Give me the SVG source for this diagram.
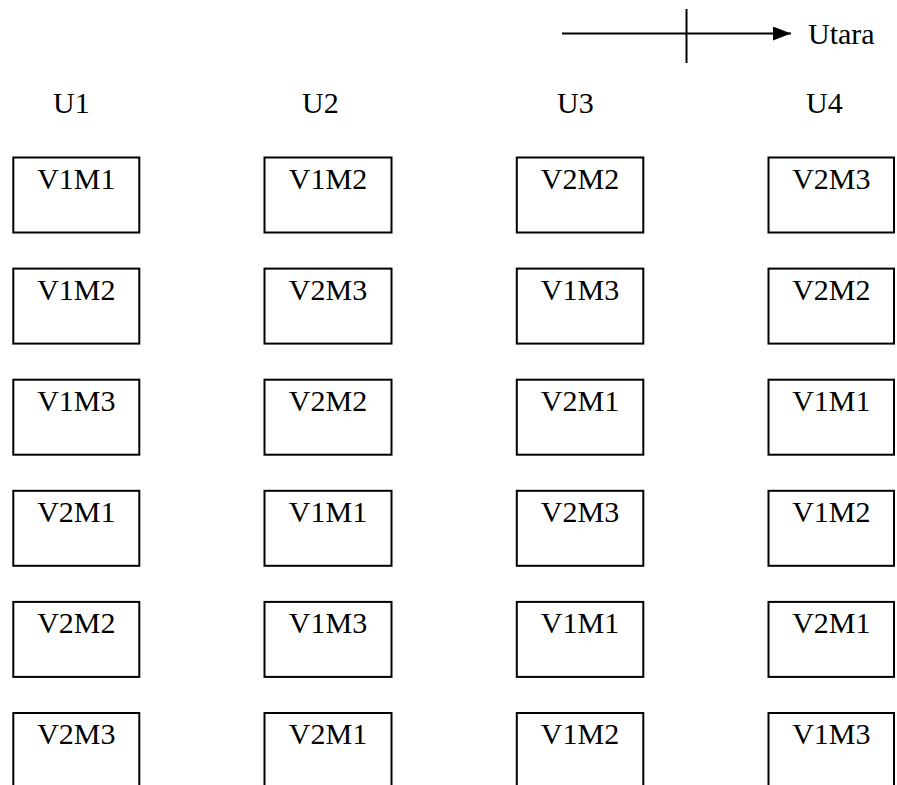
<svg xmlns="http://www.w3.org/2000/svg" width="897" height="785" viewBox="0 0 897 785">
<style>
.box{fill:#fff;stroke:#000;stroke-width:2}
.t{font-family:"Liberation Serif","Times New Roman",serif;font-size:30px;fill:#000}
.c{text-anchor:middle}
.ln{stroke:#000;stroke-width:2;fill:none}
</style>
<defs>
<marker id="ah" viewBox="0 0 10 10" refX="10" refY="5" markerWidth="18" markerHeight="14" markerUnits="userSpaceOnUse" orient="auto" preserveAspectRatio="none"><path d="M0,0 L10,5 L0,10 Z" fill="#000"/></marker>
</defs>
<rect width="897" height="785" fill="#fff"/>
<g id="connectors">
<line class="ln" x1="562" y1="33.5" x2="791" y2="33.5" marker-end="url(#ah)"/>
<line class="ln" x1="686.5" y1="9" x2="686.5" y2="63"/>
</g>
<text class="t" x="808" y="44">Utara</text>
<g id="headers">
<text class="t" x="53" y="113">U1</text>
<text class="t" x="302" y="113">U2</text>
<text class="t" x="557" y="113">U3</text>
<text class="t" x="806" y="113">U4</text>
</g>
<g id="r1c1"><rect class="box" x="13.3" y="157.5" width="126" height="75"/><text class="t c" x="76.3" y="188.5">V1M1</text></g>
<g id="r1c2"><rect class="box" x="264.5" y="157.5" width="127" height="75"/><text class="t c" x="328" y="188.5">V1M2</text></g>
<g id="r1c3"><rect class="box" x="516.8" y="157.5" width="126.5" height="75"/><text class="t c" x="580" y="188.5">V2M2</text></g>
<g id="r1c4"><rect class="box" x="768.5" y="157.5" width="125.5" height="75"/><text class="t c" x="831.3" y="188.5">V2M3</text></g>

<g id="r2c1"><rect class="box" x="13.3" y="268.6" width="126" height="75"/><text class="t c" x="76.3" y="299.6">V1M2</text></g>
<g id="r2c2"><rect class="box" x="264.5" y="268.6" width="127" height="75"/><text class="t c" x="328" y="299.6">V2M3</text></g>
<g id="r2c3"><rect class="box" x="516.8" y="268.6" width="126.5" height="75"/><text class="t c" x="580" y="299.6">V1M3</text></g>
<g id="r2c4"><rect class="box" x="768.5" y="268.6" width="125.5" height="75"/><text class="t c" x="831.3" y="299.6">V2M2</text></g>

<g id="r3c1"><rect class="box" x="13.3" y="379.7" width="126" height="75"/><text class="t c" x="76.3" y="410.7">V1M3</text></g>
<g id="r3c2"><rect class="box" x="264.5" y="379.7" width="127" height="75"/><text class="t c" x="328" y="410.7">V2M2</text></g>
<g id="r3c3"><rect class="box" x="516.8" y="379.7" width="126.5" height="75"/><text class="t c" x="580" y="410.7">V2M1</text></g>
<g id="r3c4"><rect class="box" x="768.5" y="379.7" width="125.5" height="75"/><text class="t c" x="831.3" y="410.7">V1M1</text></g>

<g id="r4c1"><rect class="box" x="13.3" y="490.8" width="126" height="75"/><text class="t c" x="76.3" y="521.8">V2M1</text></g>
<g id="r4c2"><rect class="box" x="264.5" y="490.8" width="127" height="75"/><text class="t c" x="328" y="521.8">V1M1</text></g>
<g id="r4c3"><rect class="box" x="516.8" y="490.8" width="126.5" height="75"/><text class="t c" x="580" y="521.8">V2M3</text></g>
<g id="r4c4"><rect class="box" x="768.5" y="490.8" width="125.5" height="75"/><text class="t c" x="831.3" y="521.8">V1M2</text></g>

<g id="r5c1"><rect class="box" x="13.3" y="601.9" width="126" height="75"/><text class="t c" x="76.3" y="632.9">V2M2</text></g>
<g id="r5c2"><rect class="box" x="264.5" y="601.9" width="127" height="75"/><text class="t c" x="328" y="632.9">V1M3</text></g>
<g id="r5c3"><rect class="box" x="516.8" y="601.9" width="126.5" height="75"/><text class="t c" x="580" y="632.9">V1M1</text></g>
<g id="r5c4"><rect class="box" x="768.5" y="601.9" width="125.5" height="75"/><text class="t c" x="831.3" y="632.9">V2M1</text></g>

<g id="r6c1"><rect class="box" x="13.3" y="713" width="126" height="75"/><text class="t c" x="76.3" y="744">V2M3</text></g>
<g id="r6c2"><rect class="box" x="264.5" y="713" width="127" height="75"/><text class="t c" x="328" y="744">V2M1</text></g>
<g id="r6c3"><rect class="box" x="516.8" y="713" width="126.5" height="75"/><text class="t c" x="580" y="744">V1M2</text></g>
<g id="r6c4"><rect class="box" x="768.5" y="713" width="125.5" height="75"/><text class="t c" x="831.3" y="744">V1M3</text></g>
</svg>
